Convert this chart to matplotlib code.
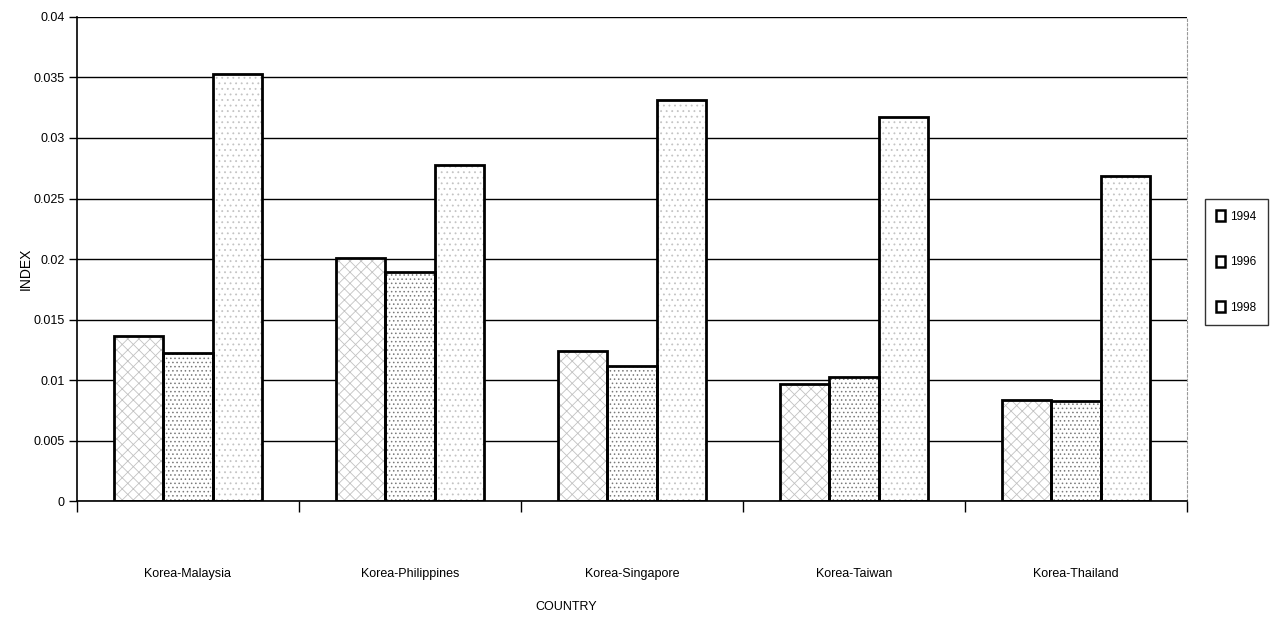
import matplotlib
matplotlib.use("Agg")
import matplotlib.pyplot as plt
import numpy as np
from matplotlib.patches import Patch

plt.rcParams['font.family'] = ['Liberation Sans Narrow', 'Liberation Sans', 'DejaVu Sans']
plt.rcParams['hatch.linewidth'] = 0.6

categories = ["Korea-Malaysia", "Korea-Philippines", "Korea-Singapore", "Korea-Taiwan", "Korea-Thailand"]
years = ["1994", "1996", "1998"]
values_1994 = [0.01364, 0.02008, 0.01240, 0.00967, 0.00835]
values_1996 = [0.01223, 0.01893, 0.01116, 0.01025, 0.00828]
values_1998 = [0.03529, 0.02777, 0.03314, 0.03174, 0.02686]
y_ticks = [0, 0.005, 0.01, 0.015, 0.02, 0.025, 0.03, 0.035, 0.04]
y_tick_labels = ["0", "0.005", "0.01", "0.015", "0.02", "0.025", "0.03", "0.035", "0.04"]

series = [values_1994, values_1996, values_1998]
hatches = ["xxx", "....", "..."]
hatch_colors = ["#c2c2c2", "#7a7a7a", "#c4c4c4"]

fig = plt.figure(figsize=(12.72, 6.2), dpi=100)
ax = fig.add_axes([0.0605, 0.1919, 0.8727, 0.7807])

x = np.arange(len(categories))
width = 0.222
offsets = [-width, 0, width]

for vals, off, h, hc in zip(series, offsets, hatches, hatch_colors):
    ax.bar(x + off, vals, width, color="white", edgecolor=hc, hatch=h,
           linewidth=0, zorder=2)
    ax.bar(x + off, vals, width, fill=False, edgecolor="black",
           linewidth=2.0, zorder=3)

ax.set_xlim(-0.5, len(categories) - 0.5)
ax.set_ylim(0, 0.04)

ax.set_yticks(y_ticks)
ax.set_yticklabels(y_tick_labels, fontsize=9)
ax.yaxis.grid(True, color="black", linewidth=1.0, zorder=0)
ax.set_axisbelow(True)

# category boundary ticks below the axis, labels between them
ax.set_xticks(np.arange(len(categories) + 1) - 0.5)
ax.set_xticklabels([])
ax.set_xticks(x, minor=True)
ax.set_xticklabels(categories, minor=True, fontsize=9)
ax.tick_params(axis="x", which="major", length=8, direction="out", width=1)
ax.tick_params(axis="x", which="minor", length=0, pad=48)
ax.tick_params(axis="y", length=6, direction="out", width=1, pad=3)

ax.spines["top"].set_visible(False)
ax.spines["right"].set_color("#999999")
ax.spines["right"].set_linestyle((0, (2, 2)))
ax.spines["right"].set_linewidth(0.8)
ax.spines["left"].set_linewidth(1.2)
ax.spines["bottom"].set_linewidth(1.2)

ax.set_ylabel("INDEX", fontsize=10)
ax.yaxis.set_label_coords(-44 / 1110, 0.48)
ax.set_xlabel("COUNTRY", fontsize=9)
ax.xaxis.set_label_coords(0.441, -100 / 484)

handles = [Patch(facecolor="white", edgecolor="black", linewidth=1.8, label=yr)
           for yr in years]
leg = fig.legend(handles=handles, loc="center left",
                 bbox_to_anchor=(1205 / 1272, 1 - 262 / 620),
                 frameon=True, fancybox=False, edgecolor="black",
                 fontsize=9, handlelength=0.7, handleheight=1.0,
                 handletextpad=0.4, labelspacing=2.6, borderpad=0.9,
                 borderaxespad=0)
leg.get_frame().set_linewidth(1.0)
leg._legend_box.sep = 0
for t in leg.get_texts():
    t.set_fontsize(8.5)

fig.savefig("out.png", dpi=100, facecolor="white")
